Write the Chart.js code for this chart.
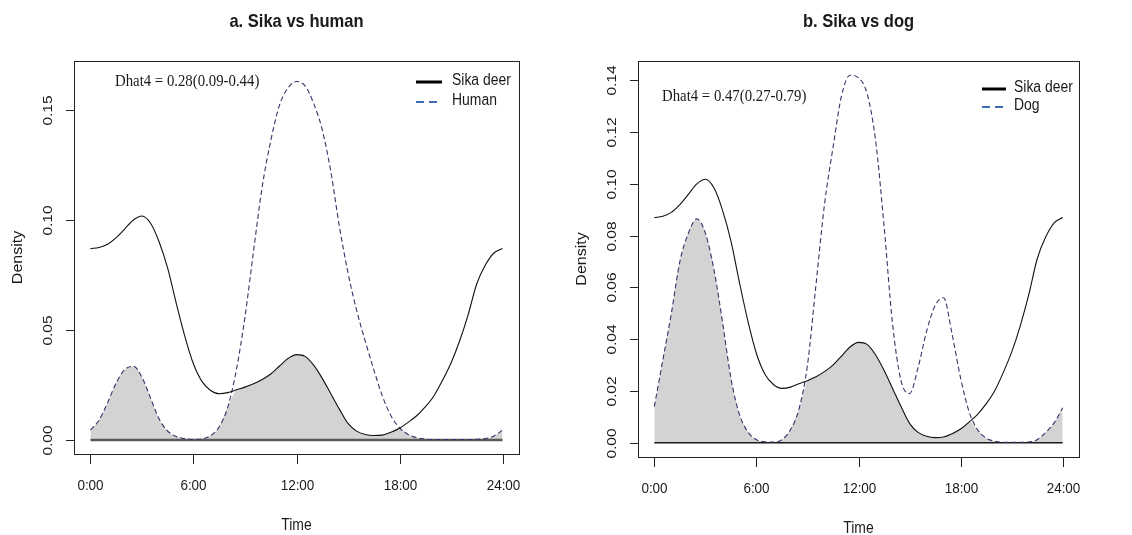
<!DOCTYPE html>
<html>
<head>
<meta charset="utf-8">
<script src="https://cdn.jsdelivr.net/npm/chart.js@4/dist/chart.umd.min.js"></script>
<style>
    body { margin: 0; background: #ffffff; }
    .row { display: flex; width: 1132px; height: 535px; }
    canvas { display: block; }
</style>
</head>
<body>
<div class="row">
    <canvas id="human" width="566" height="535"></canvas>
    <canvas id="dog" width="566" height="535"></canvas>
</div>
<script>
// time of day (hours) at which the kernel densities were read
const hours = [
    0, 0.5, 1, 1.5, 2, 2.5, 3, 3.5, 4, 4.5, 5, 5.5, 6, 6.5, 7, 7.5, 8, 8.5, 9, 9.5,
    10, 10.5, 11, 11.5, 12, 12.5, 13, 13.5, 14, 14.5, 15, 15.5, 16, 16.5, 17, 17.5,
    18, 18.5, 19, 19.5, 20, 20.5, 21, 21.5, 22, 22.5, 23, 23.5, 24,
];

const sikaDeer = [
    0.0870, 0.0875, 0.0890, 0.0920, 0.0960, 0.1000, 0.1018, 0.0985, 0.0900, 0.0780,
    0.0620, 0.0470, 0.0345, 0.0265, 0.0225, 0.0210, 0.0215, 0.0228, 0.0240, 0.0255,
    0.0275, 0.0300, 0.0335, 0.0370, 0.0388, 0.0380, 0.0340, 0.0280, 0.0210, 0.0140,
    0.0075, 0.0040, 0.0025, 0.0020, 0.0022, 0.0035, 0.0053, 0.0080, 0.0110, 0.0150,
    0.0200, 0.0270, 0.0350, 0.0450, 0.0570, 0.0710, 0.0795, 0.0850, 0.0870,
];

const human = [
    0.0045, 0.0090, 0.0170, 0.0260, 0.0320, 0.0335, 0.0285, 0.0190, 0.0095, 0.0040,
    0.0015, 0.0006, 0.0003, 0.0005, 0.0020, 0.0060, 0.0150, 0.0320, 0.0560, 0.0860,
    0.1150, 0.1360, 0.1520, 0.1600, 0.1630, 0.1610, 0.1530, 0.1410, 0.1220, 0.0970,
    0.0760, 0.0590, 0.0450, 0.0320, 0.0200, 0.0110, 0.0055, 0.0025, 0.0010, 0.0004,
    0.0002, 0.0002, 0.0002, 0.0002, 0.0002, 0.0003, 0.0006, 0.0018, 0.0045,
];

const dog = [
    0.0140, 0.0320, 0.0500, 0.0700, 0.0810, 0.0865, 0.0810, 0.0670, 0.0470, 0.0250,
    0.0110, 0.0042, 0.0012, 0.0004, 0.0003, 0.0012, 0.0050, 0.0130, 0.0300, 0.0610,
    0.0920, 0.1140, 0.1340, 0.1420, 0.1410, 0.1350, 0.1170, 0.0840, 0.0460, 0.0240,
    0.0190, 0.0290, 0.0430, 0.0530, 0.0560, 0.0420, 0.0250, 0.0120, 0.0050, 0.0018,
    0.0006, 0.0002, 0.0002, 0.0002, 0.0003, 0.0012, 0.0040, 0.0077, 0.0135,
];

const xTicks = [0, 6, 12, 18, 24];
const xTickLabels = ['0:00', '6:00', '12:00', '18:00', '24:00'];
const humanYTicks = [0, 0.05, 0.10, 0.15];
const humanYTickLabels = ['0.00', '0.05', '0.10', '0.15'];
const dogYTicks = [0, 0.02, 0.04, 0.06, 0.08, 0.10, 0.12, 0.14];
const dogYTickLabels = ['0.00', '0.02', '0.04', '0.06', '0.08', '0.10', '0.12', '0.14'];

const SANS = '"Liberation Sans", Arial, sans-serif';
const SERIF = '"Liberation Serif", "Times New Roman", serif';
const SQUEEZE = 0.87;

function points(values) {
    return hours.map((h, i) => ({ x: h, y: values[i] }));
}

function overlap(a, b) {
    return hours.map((h, i) => ({ x: h, y: Math.min(a[i], b[i]) }));
}

function drawText(ctx, text, x, y, font, align, squeeze, rotate) {
    ctx.save();
    ctx.translate(x, y);
    ctx.scale(squeeze, 1);
    if (rotate) {
        ctx.rotate(-Math.PI / 2);
    }
    ctx.font = font;
    ctx.fillStyle = '#1a1a1a';
    ctx.textAlign = align;
    ctx.textBaseline = 'middle';
    ctx.fillText(text, 0, 0);
    ctx.restore();
}

// R style frame, axes, title, legend and estimate label
const basePlotDecor = {
    id: 'basePlotDecor',
    afterDraw(chart, args, opts) {
        const { ctx, chartArea: area } = chart;
        const xs = chart.scales.x;
        const ys = chart.scales.y;

        ctx.save();
        ctx.strokeStyle = '#222222';
        ctx.lineWidth = 1;
        ctx.strokeRect(area.left + 0.5, area.top + 0.5, area.right - area.left, area.bottom - area.top);

        xTicks.forEach((t, i) => {
            const px = Math.round(xs.getPixelForValue(t)) + 0.5;
            ctx.beginPath();
            ctx.moveTo(px, area.bottom);
            ctx.lineTo(px, area.bottom + 10);
            ctx.stroke();
            drawText(ctx, xTickLabels[i], px, area.bottom + 32, `15.5px ${SANS}`, 'center', SQUEEZE, false);
        });

        opts.yTicks.forEach((t, i) => {
            const py = Math.round(ys.getPixelForValue(t)) + 0.5;
            ctx.beginPath();
            ctx.moveTo(area.left - 8, py);
            ctx.lineTo(area.left, py);
            ctx.stroke();
            drawText(ctx, opts.yTickLabels[i], area.left - 26, py, `15.5px ${SANS}`, 'center', SQUEEZE, true);
        });

        const midX = (area.left + area.right) / 2;
        const midY = (area.top + area.bottom) / 2;
        drawText(ctx, 'Density', area.left - 56, midY, `16px ${SANS}`, 'center', SQUEEZE, true);
        drawText(ctx, 'Time', midX, area.bottom + 72, `16px ${SANS}`, 'center', SQUEEZE, false);
        drawText(ctx, opts.title, midX, 22, `bold 19px ${SANS}`, 'center', SQUEEZE, false);
        drawText(ctx, opts.estimate, opts.estimateX, opts.estimateY, `17px ${SERIF}`, 'left', SQUEEZE, false);

        // legend
        const lg = opts.legend;
        ctx.strokeStyle = '#000000';
        ctx.lineWidth = 3;
        ctx.setLineDash([]);
        ctx.beginPath();
        ctx.moveTo(lg.x1, lg.y1);
        ctx.lineTo(lg.x2, lg.y1);
        ctx.stroke();
        ctx.strokeStyle = '#3b6cb4';
        ctx.lineWidth = 2;
        ctx.setLineDash([8, 5]);
        ctx.beginPath();
        ctx.moveTo(lg.x1, lg.y2);
        ctx.lineTo(lg.x2, lg.y2);
        ctx.stroke();
        ctx.setLineDash([]);
        drawText(ctx, 'Sika deer', lg.textX, lg.y1 - 1, `16px ${SANS}`, 'left', SQUEEZE, false);
        drawText(ctx, lg.label, lg.textX, lg.y2 - 1, `16px ${SANS}`, 'left', SQUEEZE, false);
        ctx.restore();
    },
};

function makePanel(canvasId, other, panel) {
    const zeroLine = hours.map((h) => ({ x: h, y: 0 }));

    return new Chart(document.getElementById(canvasId), {
        type: 'line',
        data: {
            datasets: [
                {
                    data: overlap(sikaDeer, other),
                    fill: 'origin',
                    backgroundColor: '#d3d3d3',
                    borderWidth: 0,
                    pointRadius: 0,
                    cubicInterpolationMode: 'monotone',
                    order: 4,
                },
                {
                    data: zeroLine,
                    borderColor: panel.baseColor,
                    borderWidth: panel.baseWidth,
                    pointRadius: 0,
                    fill: false,
                    order: 3,
                },
                {
                    data: points(other),
                    borderColor: '#34346a',
                    borderWidth: 1.1,
                    borderDash: [5, 3],
                    pointRadius: 0,
                    fill: false,
                    cubicInterpolationMode: 'monotone',
                    order: 2,
                },
                {
                    data: points(sikaDeer),
                    borderColor: '#111111',
                    borderWidth: 1.1,
                    pointRadius: 0,
                    fill: false,
                    cubicInterpolationMode: 'monotone',
                    order: 1,
                },
            ],
        },
        options: {
            responsive: false,
            animation: false,
            layout: { padding: panel.padding },
            plugins: {
                legend: { display: false },
                tooltip: { enabled: false },
                basePlotDecor: panel.decor,
            },
            scales: {
                x: { type: 'linear', min: -0.96, max: 24.96, display: false },
                y: { type: 'linear', min: panel.yMin, max: panel.yMax, display: false },
            },
        },
        plugins: [basePlotDecor],
    });
}

makePanel('human', human, {
    padding: { left: 74, top: 61, right: 47, bottom: 81 },
    yMin: -0.0064,
    yMax: 0.1723,
    baseColor: '#5a5a5a',
    baseWidth: 2.5,
    decor: {
        title: 'a. Sika vs human',
        estimate: 'Dhat4 = 0.28(0.09-0.44)',
        estimateX: 115,
        estimateY: 82,
        yTicks: humanYTicks,
        yTickLabels: humanYTickLabels,
        legend: { x1: 416, x2: 442, textX: 452, y1: 82, y2: 102, label: 'Human' },
    },
});

makePanel('dog', dog, {
    padding: { left: 72, top: 61, right: 53, bottom: 78 },
    yMin: -0.0055,
    yMax: 0.1475,
    baseColor: '#1a1a1a',
    baseWidth: 1.6,
    decor: {
        title: 'b. Sika vs dog',
        estimate: 'Dhat4 = 0.47(0.27-0.79)',
        estimateX: 96,
        estimateY: 97,
        yTicks: dogYTicks,
        yTickLabels: dogYTickLabels,
        legend: { x1: 416, x2: 440, textX: 448, y1: 89, y2: 107, label: 'Dog' },
    },
});
</script>
</body>
</html>
